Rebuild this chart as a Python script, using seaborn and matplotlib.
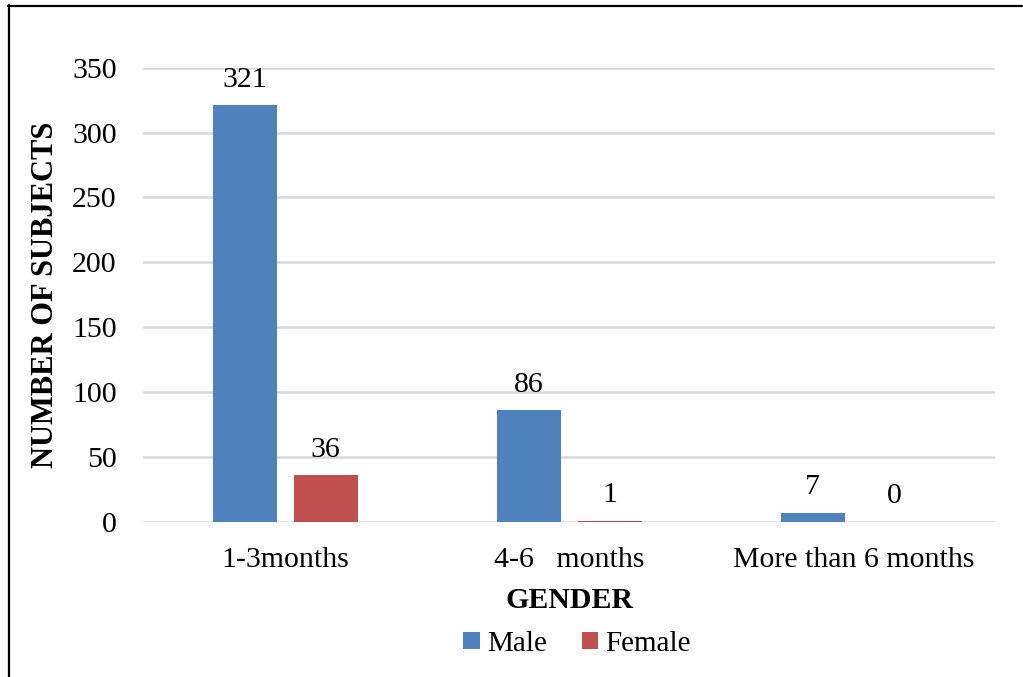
import matplotlib
matplotlib.use("Agg")
import matplotlib.pyplot as plt
from matplotlib.lines import Line2D
from matplotlib.patches import Patch
import seaborn as sns
import pandas as pd

# Duration groups and subject counts per gender
durations = ["1-3months", "4-6   months", "More than 6 months"]
male = [321, 86, 7]
female = [36, 1, 0]
genders = ["Male", "Female"]
yticks = [0, 50, 100, 150, 200, 250, 300, 350]

colors = {"Male": "#4F81BD", "Female": "#C0504D"}

df = pd.DataFrame({
    "duration": durations * 2,
    "count": male + female,
    "gender": ["Male"] * len(durations) + ["Female"] * len(durations),
})

sns.set_theme(style="white")
plt.rcParams["font.family"] = ["Liberation Serif", "DejaVu Serif"]
plt.rcParams["text.color"] = "black"
plt.rcParams["axes.labelcolor"] = "black"

fig = plt.figure(figsize=(10.23, 6.77), dpi=100)
ax = fig.add_axes([0.140, 0.229, 0.833, 0.671])

sns.barplot(data=df, x="duration", y="count", hue="gender", order=durations,
            hue_order=genders, palette=colors, width=0.57, gap=0.21,
            saturation=1, legend=False, linewidth=0, ax=ax)

ax.set_ylim(0, 350)
ax.set_yticks(yticks)
ax.set_xlim(-0.5, len(durations) - 0.5)
ax.yaxis.grid(True, color="#D9D9D9", linewidth=1.8)
ax.set_axisbelow(True)
for s in ax.spines.values():
    s.set_visible(False)

ax.tick_params(axis="both", length=0, labelsize=21.5, colors="black")
ax.tick_params(axis="x", pad=18)
ax.tick_params(axis="y", pad=19)

ax.set_xlabel("GENDER", fontsize=21.5, fontweight="bold", labelpad=10)
ax.set_ylabel("NUMBER OF SUBJECTS", fontsize=22, fontweight="bold", labelpad=9)

for cont in ax.containers:
    ax.bar_label(cont, fmt="%d", padding=9, fontsize=21.5, color="black")

handles = [Patch(facecolor=colors[g], edgecolor="none", label=g) for g in genders]
fig.legend(handles=handles, loc="center", bbox_to_anchor=(577 / 1023, 1 - 644 / 677),
           ncol=2, frameon=False, fontsize=21, handlelength=0.55, handleheight=0.55,
           handletextpad=0.25, columnspacing=1.2)

# Frame along the top and left edges of the figure
fig.add_artist(Line2D([8 / 1023, 1022 / 1023], [1 - 6 / 677, 1 - 6 / 677],
                      transform=fig.transFigure, color="black", linewidth=1.6))
fig.add_artist(Line2D([8.5 / 1023, 8.5 / 1023], [0, 1 - 5 / 677],
                      transform=fig.transFigure, color="black", linewidth=1.6))

fig.savefig("out.png", dpi=100, facecolor="white")
